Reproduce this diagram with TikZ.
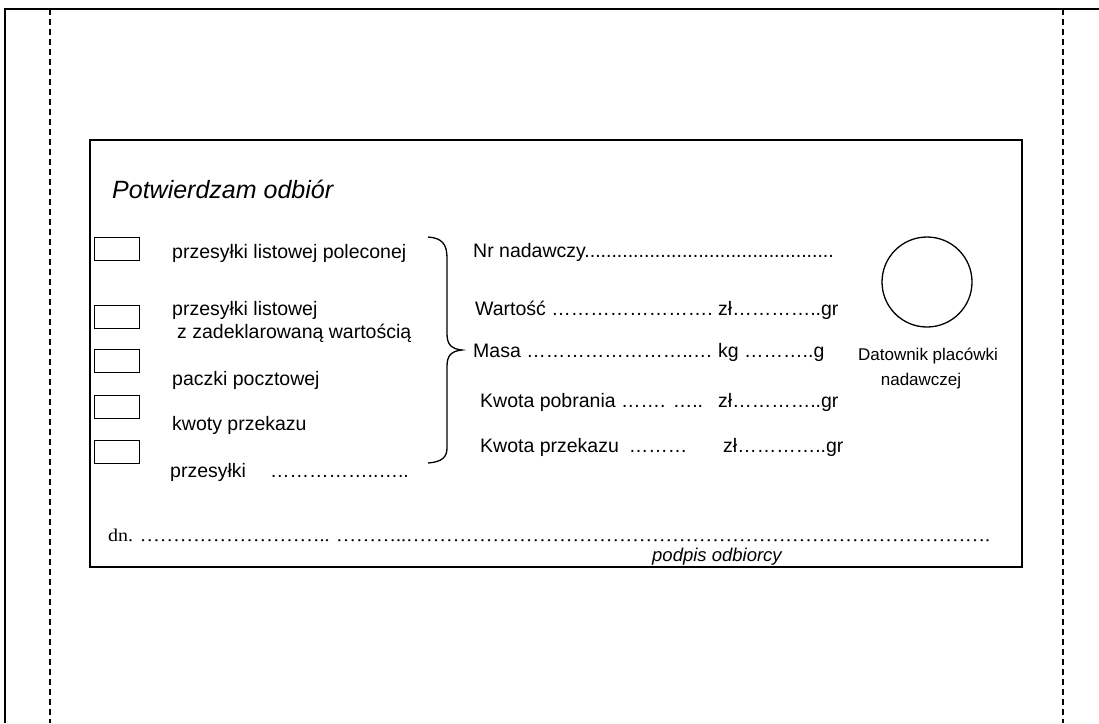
\documentclass[tikz,border=0pt]{standalone}
\usepackage{fontspec}
\usepackage{graphicx}
\setmainfont{Liberation Sans}
\newfontfamily\dnserif{Liberation Serif}
\begin{document}
\begin{tikzpicture}[x=1pt,y=-1pt,
  txt/.style={anchor=base west, inner sep=0pt, font=\fontsize{19.5}{22}\selectfont},
  smalltxt/.style={anchor=base, inner sep=0pt, font=\fontsize{17}{20}\selectfont},
  chkbox/.style={draw, line width=1.2pt, minimum width=45pt, minimum height=23pt, inner sep=0pt, anchor=north west},
  frameline/.style={line width=1.5pt},
  cutline/.style={line width=1.4pt, dash pattern=on 6pt off 4pt},
  boxline/.style={line width=1.3pt}]
\useasboundingbox (0,0) rectangle (1099,723);
% outer frame
\draw[frameline] (1099,9) -- (5,9) -- (5,723);
\draw[cutline] (50,9) -- (50,723);
\draw[cutline] (1063,9) -- (1063,723);
% inner box
\draw[boxline] (90,140) rectangle (1022,567);
\draw[line width=2.4pt] (90,567) -- (1022,567);
% title
\node[txt, font=\fontsize{25}{28}\selectfont\itshape] (title) at (112,198) {Potwierdzam odbiór};
% checkboxes
\node[chkbox] (c1) at (94,237) {};
\node[chkbox] (c2) at (94,305) {};
\node[chkbox] (c3) at (94,349) {};
\node[chkbox] (c4) at (94,395) {};
\node[chkbox] (c5) at (94,440) {};
% left labels
\node[txt] (l1) at (172,258) {przesyłki listowej poleconej};
\node[txt] (l2a) at (172,315) {przesyłki listowej};
\node[txt] (l2b) at (177,338) {z zadeklarowaną wartością};
\node[txt] (l3) at (172,385) {paczki pocztowej};
\node[txt] (l4) at (172,430) {kwoty przekazu};
\node[txt] (l5) at (170,477) {przesyłki};
\node[txt] (l5d) at (270,477) {……………..…..};
% brace
\draw[line width=1.3pt] (428,237) .. controls (442,238) and (447,244) .. (447,258)
  -- (447,334) .. controls (447,345) and (452,349) .. (462,350)
  .. controls (452,351) and (447,355) .. (447,366)
  -- (447,448) .. controls (447,457) and (442,462) .. (428,463);
% right column
\node[txt] (nr) at (473,257) {Nr nadawczy..............................................};
\node[txt] (wart) at (475,315) {Wartość …………………….};
\node[txt] (wartzl) at (718,315) {zł…………..gr};
\node[txt] (masa) at (473,357) {Masa ……………………..…};
\node[txt] (masakg) at (718,357) {kg ………..g};
\node[txt] (pobr) at (480,407) {Kwota pobrania ……. …..};
\node[txt] (pobrzl) at (718,407) {zł…………..gr};
\node[txt] (przek) at (480,452) {Kwota przekazu\hspace{10pt}………};
\node[txt] (przekzl) at (723,452) {zł…………..gr};
% stamp
\node[circle, draw, line width=1.3pt, minimum size=90pt, inner sep=0pt] (stamp) at (927,282) {};
\node[smalltxt] (dat1) at (928,360) {Datownik placówki};
\node[smalltxt] (dat2) at (921,385) {nadawczej};
% bottom line
\node[anchor=base west, inner sep=0pt, font=\dnserif\fontsize{18}{20}\selectfont] (dn) at (108,541)
  {\resizebox{882pt}{\height}{dn. ……………………….. ………..…………………………………………………………………………….}};
\node[txt, font=\fontsize{18.5}{20}\selectfont\itshape] (podpis) at (652,561) {podpis odbiorcy};
\end{tikzpicture}
\end{document}
